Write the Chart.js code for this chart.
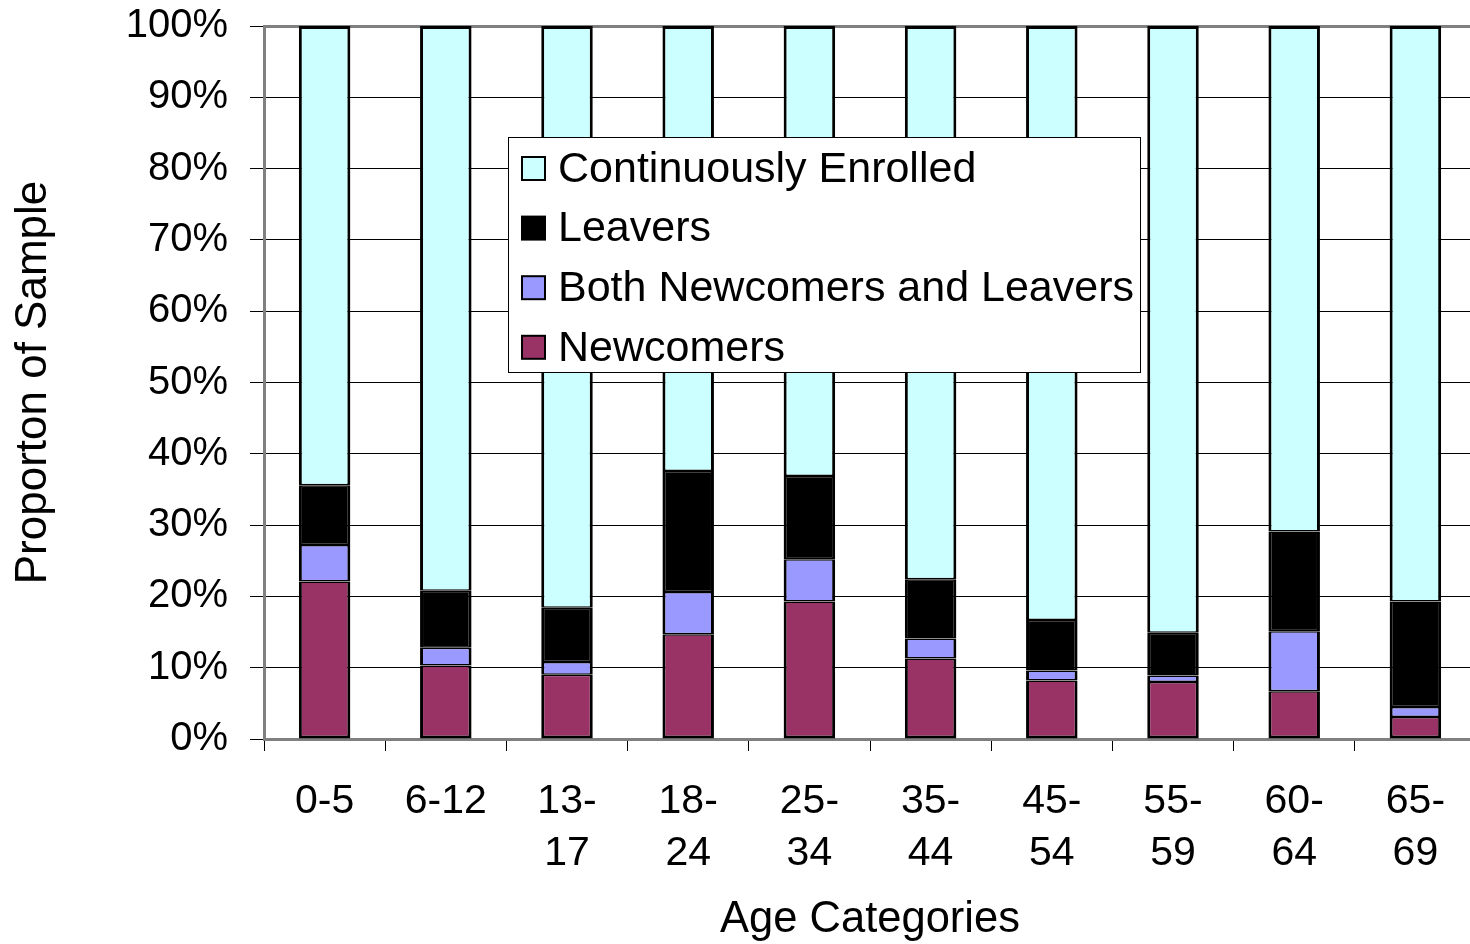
<!DOCTYPE html>
<html>
<head>
<meta charset="utf-8">
<script src="https://cdn.jsdelivr.net/npm/chart.js@4/dist/chart.umd.min.js"></script>
<style>
  html, body { margin: 0; padding: 0; background: #fff; overflow: hidden; }
  #wrap { width: 1478px; height: 944px; }
</style>
</head>
<body>
<div id="wrap"><canvas id="c" width="1478" height="944"></canvas></div>
<script>
// Age groups (multi-line labels are split into arrays)
const categories = ['0-5', '6-12', ['13-', '17'], ['18-', '24'], ['25-', '34'],
                    ['35-', '44'], ['45-', '54'], ['55-', '59'], ['60-', '64'], ['65-', '69']];

// Share of each age group, in percent
const newcomers  = [22.1, 10.3, 9.0, 14.7, 19.3, 11.3, 8.2, 8.0, 6.7, 3.1];
const both       = [5.1, 2.5, 1.8, 5.9, 5.9, 2.8, 1.4, 0.9, 8.4, 1.4];
const leavers    = [8.4, 8.0, 7.6, 17.0, 11.7, 8.3, 7.1, 6.0, 14.0, 14.8];
const continuous = [64.4, 79.2, 81.6, 62.4, 63.1, 77.6, 83.3, 85.1, 70.9, 80.7];

const yTicks = [0, 10, 20, 30, 40, 50, 60, 70, 80, 90, 100];

const FONT = '"Liberation Sans", Arial, sans-serif';

// Boxed legend drawn inside the plot, top series first
const boxLegend = {
  id: 'boxLegend',
  afterDraw(chart) {
    const ctx = chart.ctx;
    const x0 = 508.5, y0 = 137.5, w = 632, h = 235;
    ctx.save();
    ctx.fillStyle = '#ffffff';
    ctx.fillRect(x0, y0, w, h);
    ctx.strokeStyle = '#000000';
    ctx.lineWidth = 1;
    ctx.strokeRect(x0, y0, w, h);
    const items = chart.data.datasets.slice().reverse();
    ctx.font = '43px ' + FONT;
    ctx.textBaseline = 'middle';
    ctx.textAlign = 'left';
    items.forEach((ds, i) => {
      const cy = 168 + i * 59.6;
      ctx.fillStyle = ds.backgroundColor;
      ctx.fillRect(522, cy - 11, 23, 23);
      ctx.lineWidth = 2;
      ctx.strokeStyle = '#000';
      ctx.strokeRect(522, cy - 11, 23, 23);
      ctx.fillStyle = '#000';
      ctx.fillText(ds.label, 558, cy + 2);
    });
    ctx.restore();
  }
};

// Outline: shared edges between stacked segments stay thin, outer edges thicker
const lastIndex = 3;
const segmentBorder = ctx => ({
  left: 3,
  right: 3,
  top: ctx.datasetIndex === lastIndex ? 3 : 1.5,
  bottom: ctx.datasetIndex === 0 ? 3 : 1.5
});

const seriesStyle = {
  borderColor: '#000000',
  borderWidth: segmentBorder,
  borderSkipped: false,
  inflateAmount: 0,
  barPercentage: 0.425,
  categoryPercentage: 1.0
};

new Chart(document.getElementById('c'), {
  type: 'bar',
  data: {
    labels: categories,
    datasets: [
      Object.assign({ label: 'Newcomers', data: newcomers, backgroundColor: '#993366' }, seriesStyle),
      Object.assign({ label: 'Both Newcomers and Leavers', data: both, backgroundColor: '#9999FF' }, seriesStyle),
      Object.assign({ label: 'Leavers', data: leavers, backgroundColor: '#000000' }, seriesStyle),
      Object.assign({ label: 'Continuously Enrolled', data: continuous, backgroundColor: '#CCFFFF' }, seriesStyle)
    ]
  },
  options: {
    responsive: false,
    animation: false,
    layout: { padding: { top: 26, right: 2, bottom: 0, left: 0 } },
    plugins: {
      legend: { display: false },
      tooltip: { enabled: false }
    },
    scales: {
      x: {
        stacked: true,
        offset: true,
        grid: {
          display: true,
          drawOnChartArea: false,
          drawTicks: true,
          tickLength: 12,
          color: '#000000',
          lineWidth: 1
        },
        border: { display: true, color: '#808080', width: 3 },
        ticks: {
          color: '#000000',
          font: { family: FONT, size: 41, lineHeight: 1.26 },
          maxRotation: 0,
          autoSkip: false,
          padding: 25
        },
        title: {
          display: true,
          text: 'Age Categories',
          color: '#000000',
          font: { family: FONT, size: 43.5, lineHeight: 1.1 },
          padding: { top: 0, bottom: 0 }
        },
        afterFit(scale) { scale.height = 205; }
      },
      y: {
        stacked: true,
        min: 0,
        max: 100,
        afterBuildTicks(scale) { scale.ticks = yTicks.map(v => ({ value: v })); },
        grid: {
          color: ctx => (ctx.tick && ctx.tick.value === 100) ? '#808080' : '#000000',
          lineWidth: ctx => (ctx.tick && ctx.tick.value === 100) ? 3 : 1,
          tickColor: '#000000',
          tickWidth: 1,
          tickLength: 14
        },
        border: { display: true, color: '#808080', width: 3 },
        ticks: {
          color: '#000000',
          font: { family: FONT, size: 40, lineHeight: 0.1 },
          padding: 22,
          callback: v => v + '%'
        },
        title: {
          display: true,
          text: 'Proporton of Sample',
          color: '#000000',
          font: { family: FONT, size: 44 },
          padding: { top: 7, bottom: 0 }
        },
        afterFit(scale) { scale.width = 264; }
      }
    }
  },
  plugins: [boxLegend]
});
</script>
</body>
</html>
